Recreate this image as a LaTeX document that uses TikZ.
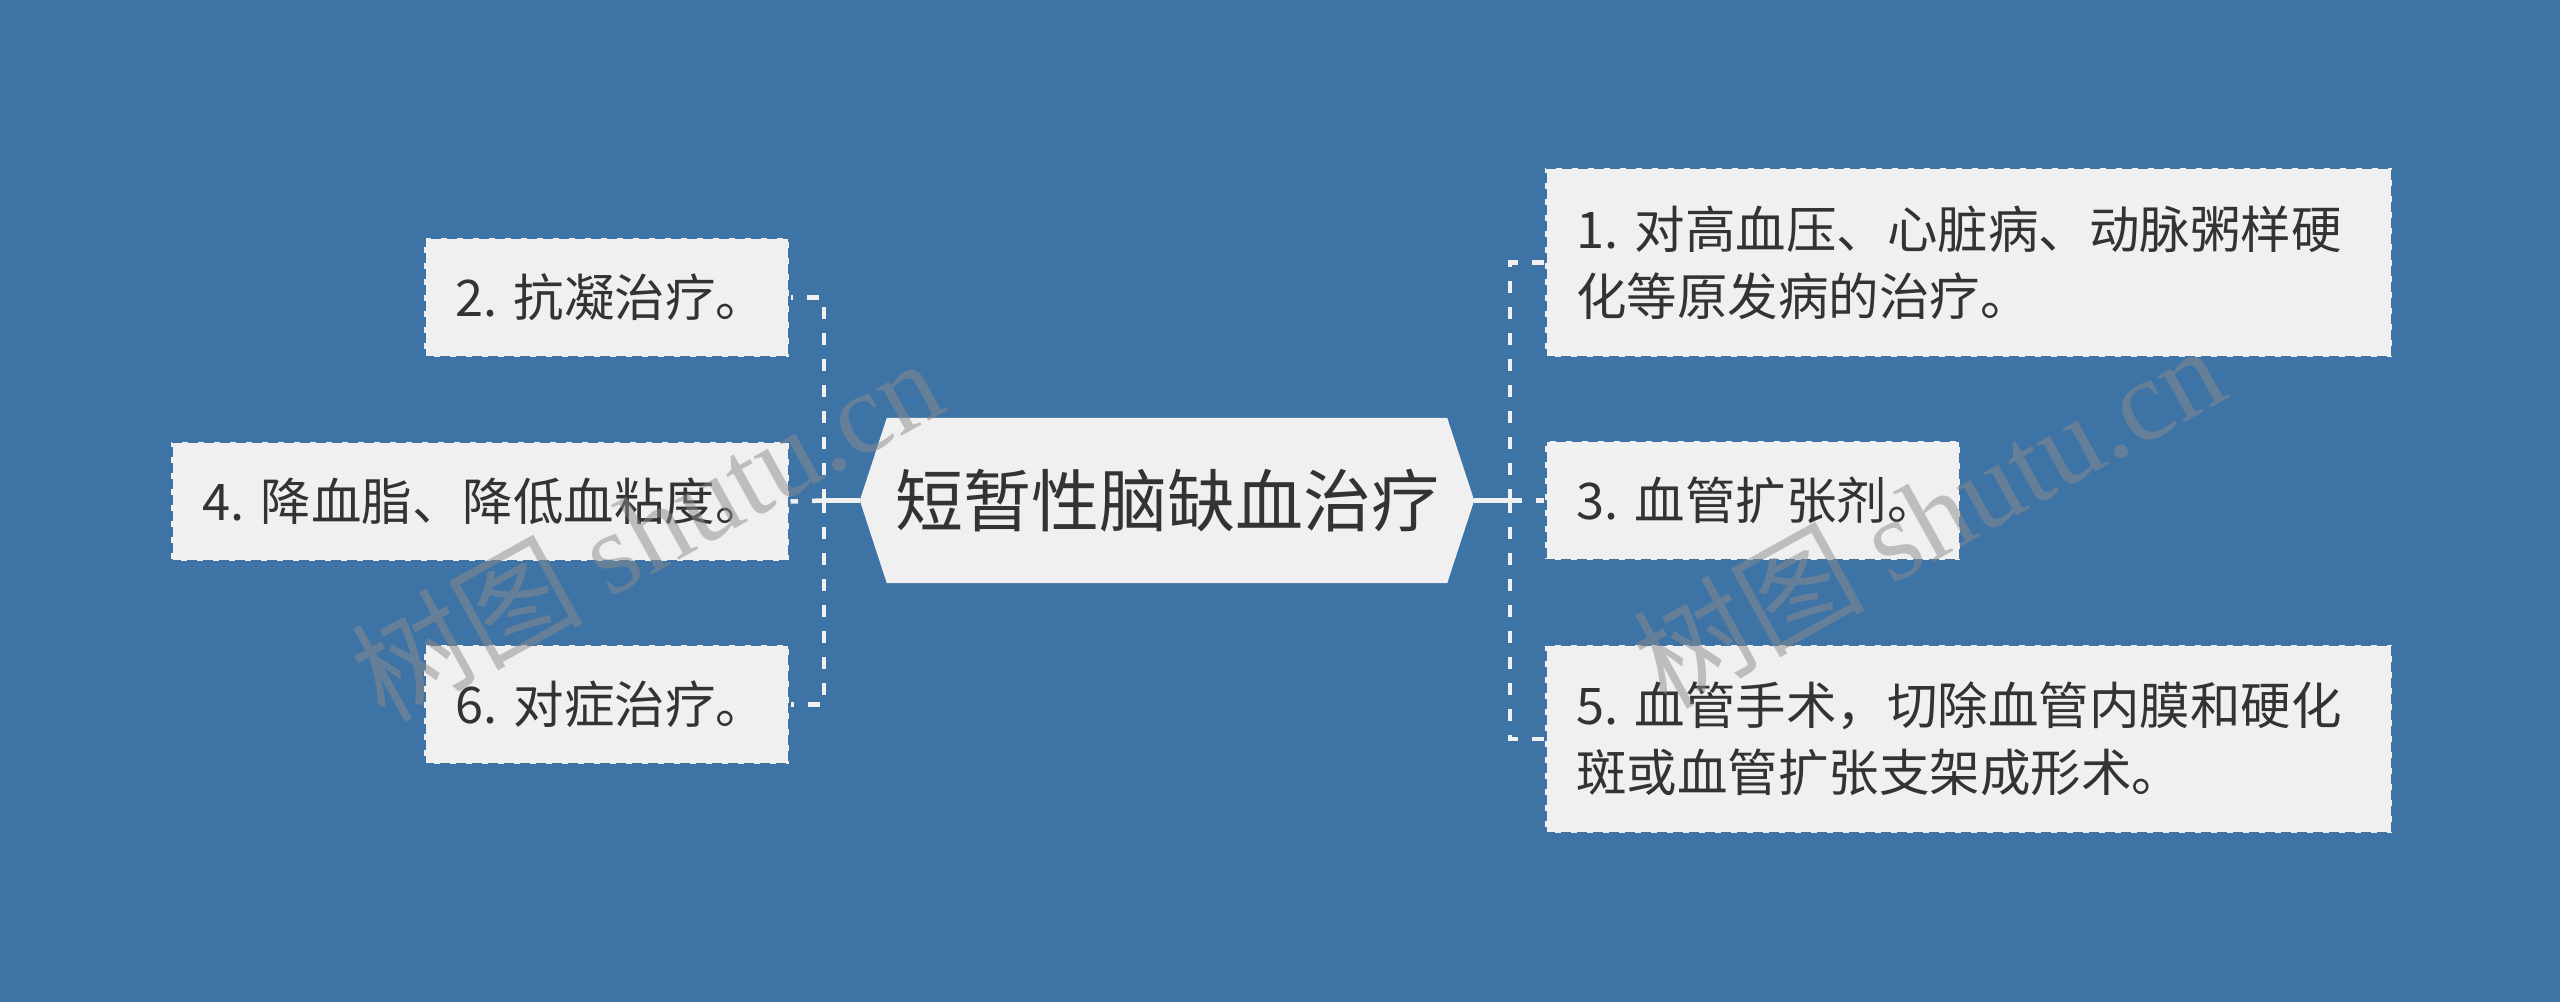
\documentclass[tikz,border=0pt]{standalone}
\usepackage{fontspec}
\newfontfamily\cjk{Noto Sans CJK SC}
\newfontfamily\wmfont{Liberation Serif}
\definecolor{bgblue}{RGB}{62,115,166}
\definecolor{boxfill}{RGB}{240,240,240}
\definecolor{txt}{RGB}{51,51,51}
\definecolor{wmgray}{RGB}{140,140,140}
\newcommand\gp{\hspace{0.33em}}
\pgfdeclarelayer{bglayer}
\pgfsetlayers{bglayer,main}
\tikzset{
  leaf/.style={rectangle, fill=boxfill, draw=bgblue, line width=2.5pt,
    dash pattern=on 10pt off 6pt, inner ysep=0pt, inner xsep=31pt,
    anchor=west, align=left, text=txt,
    font=\cjk\fontsize{50.5}{67}\selectfont},
  conn/.style={draw=boxfill, line width=4.5pt},
  dconn/.style={draw=boxfill, line width=4.5pt, dash pattern=on 12pt off 14pt},
  wmark/.style={text=wmgray, opacity=0.5, rotate=29, inner sep=0pt}
}
\begin{document}
\begin{tikzpicture}[x=1pt,y=-1pt]
\useasboundingbox (0,0) rectangle (2560,1002);

% central node
\node[inner sep=0pt, minimum width=614pt, minimum height=165pt, text=txt,
      font=\cjk\fontsize{68}{80}\selectfont] (c) at (1167,500.5) {短暂性脑缺血治疗};
\begin{pgfonlayer}{bglayer}
\fill[bgblue] (0,0) rectangle (2560,1002);
\fill[boxfill] (c.west) -- ([xshift=27pt]c.north west) -- ([xshift=-27pt]c.north east)
  -- (c.east) -- ([xshift=-27pt]c.south east) -- ([xshift=27pt]c.south west) -- cycle;
\end{pgfonlayer}

% left leaves
\node[leaf, minimum height=119pt] (n2) at (423,297.5) {\makebox[303pt][l]{2.\gp 抗凝治疗。}};
\node[leaf, minimum height=119pt] (n4) at (170,501.5) {\makebox[556pt][l]{4.\gp 降血脂、降低血粘度。}};
\node[leaf, minimum height=119pt] (n6) at (423,704.5) {\makebox[303pt][l]{6.\gp 对症治疗。}};

% right leaves
\node[leaf, minimum height=189pt, text width=785pt] (n1) at (1544,262.5) {1.\gp 对高血压、心脏病、动脉粥样硬\\化等原发病的治疗。};
\node[leaf, minimum height=119pt] (n3) at (1544,500.5) {\makebox[353pt][l]{3.\gp 血管扩张剂。}};
\node[leaf, minimum height=188pt, text width=785pt] (n5) at (1544,739) {5.\gp 血管手术，切除血管内膜和硬化\\斑或血管扩张支架成形术。};

% connectors
\coordinate (L) at (824,500.5);
\coordinate (R) at (1510,500.5);
\draw[conn] (c.west) -- (L);
\draw[conn] (c.east) -- (R);
\draw[dconn] (L) |- (n2.east);
\draw[dconn] (L) -- (n4.east);
\draw[dconn] (L) |- (n6.east);
\draw[dconn] (R) |- (n1.west);
\draw[dconn] (R) -- (n3.west);
\draw[dconn] (R) |- (n5.west);

% watermarks
\node[wmark] (w1) at (646,528) {\cjk\fontsize{116}{116}\selectfont 树图 \wmfont shutu.cn};
\node[wmark] (w2) at (1928,515) {\cjk\fontsize{116}{116}\selectfont 树图 \wmfont shutu.cn};
\end{tikzpicture}
\end{document}
